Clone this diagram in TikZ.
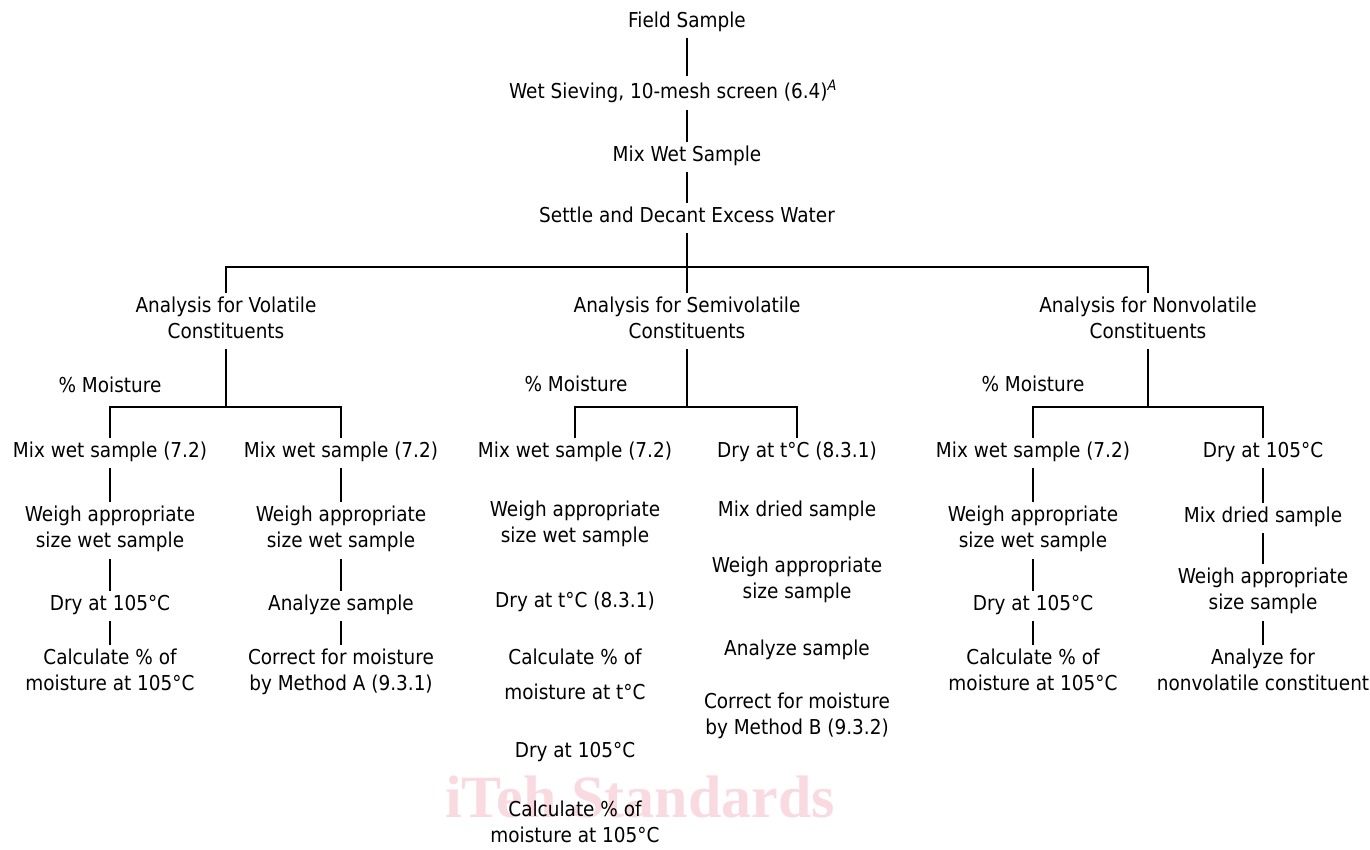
\documentclass[tikz,border=0pt]{standalone}
\usepackage{fontspec}
\setmainfont{DejaVu Sans}[FakeStretch=0.9]
\newfontfamily\wmfont{Liberation Serif}
\definecolor{wmpink}{RGB}{250,218,225}
\newcommand\mystrut{\rule[-7pt]{0pt}{22pt}}
\begin{document}
\begin{tikzpicture}[x=1pt,y=-1pt,
  lbl/.style={font=\fontsize{20.5}{26}\selectfont, align=center, inner sep=4pt,
    execute at begin node=\mystrut, execute at end node=\mystrut},
  conn/.style={line width=2.3pt},
  wm/.style={font=\wmfont\bfseries\fontsize{60}{60}\selectfont, text=wmpink, inner sep=0pt, anchor=base}]
\useasboundingbox (0,0) rectangle (1370,849);
% watermark
\node[wm] (wmark) at (640,817) {iTeh Standards};
% top chain
\node[lbl] (field) at (687,23) {Field Sample};
\node[lbl] (sieve) at (673,93) {Wet Sieving, 10-mesh screen (6.4)\textsuperscript{\itshape A}};
\node[lbl] (mixwet) at (687,157) {Mix Wet Sample};
\node[lbl] (settle) at (687,218) {Settle and Decant Excess Water};
% analysis
\node[lbl] (vol) at (226,321) {Analysis for Volatile\\Constituents};
\node[lbl] (semi) at (687,321) {Analysis for Semivolatile\\Constituents};
\node[lbl] (non) at (1148,321) {Analysis for Nonvolatile\\Constituents};
\node[lbl] (pm1) at (110,388) {\% Moisture};
\node[lbl] (pm2) at (576,387) {\% Moisture};
\node[lbl] (pm3) at (1033,387) {\% Moisture};
% column a
\node[lbl] (a1) at (110,453) {Mix wet sample (7.2)};
\node[lbl] (a2) at (110,530.5) {Weigh appropriate\\size wet sample};
\node[lbl] (a3) at (110,606) {Dry at 105°C};
\node[lbl] (a4) at (110,673.5) {Calculate \% of\\moisture at 105°C};
% column b
\node[lbl] (b1) at (341,453) {Mix wet sample (7.2)};
\node[lbl] (b2) at (341,530.5) {Weigh appropriate\\size wet sample};
\node[lbl] (b3) at (341,606) {Analyze sample};
\node[lbl] (b4) at (341,673.5) {Correct for moisture\\by Method A (9.3.1)};
% column c
\node[lbl] (c1) at (575,453) {Mix wet sample (7.2)};
\node[lbl] (c2) at (575,525) {Weigh appropriate\\size wet sample};
\node[lbl] (c3) at (575,603) {Dry at t°C (8.3.1)};
\node[lbl] (c4) at (575,677.5) {Calculate \% of\\[9pt]moisture at t°C};
\node[lbl] (c5) at (575,753) {Dry at 105°C};
\node[lbl] (c6) at (575,825) {Calculate \% of\\moisture at 105°C};
% column d
\node[lbl] (d1) at (797,453) {Dry at t°C (8.3.1)};
\node[lbl] (d2) at (797,512) {Mix dried sample};
\node[lbl] (d3) at (797,581) {Weigh appropriate\\size sample};
\node[lbl] (d4) at (797,651) {Analyze sample};
\node[lbl] (d5) at (797,717.5) {Correct for moisture\\by Method B (9.3.2)};
% column e
\node[lbl] (e1) at (1033,453) {Mix wet sample (7.2)};
\node[lbl] (e2) at (1033,530.5) {Weigh appropriate\\size wet sample};
\node[lbl] (e3) at (1033,606) {Dry at 105°C};
\node[lbl] (e4) at (1033,673.5) {Calculate \% of\\moisture at 105°C};
% column f
\node[lbl] (f1) at (1263,453) {Dry at 105°C};
\node[lbl] (f2) at (1263,518) {Mix dried sample};
\node[lbl] (f3) at (1263,592.5) {Weigh appropriate\\size sample};
\node[lbl] (f4) at (1263,673.5) {Analyze for\\nonvolatile constituent};
% junctions
\coordinate (j0) at (687,267);
\coordinate (jv) at (226,407);
\coordinate (js) at (687,407);
\coordinate (jn) at (1148,407);
% connectors
\draw[conn] (field.south) -- (field.south |- sieve.north);
\draw[conn] (mixwet.north |- sieve.south) -- (mixwet.north);
\draw[conn] (mixwet) -- (settle);
\draw[conn] (settle) -- (semi);
\draw[conn] (vol.north) |- (j0) -| (non.north);
\draw[conn] (vol) -- (jv);
\draw[conn] (a1.north) |- (jv) -| (b1.north);
\draw[conn] (semi) -- (js);
\draw[conn] (c1.north) |- (js) -| (d1.north);
\draw[conn] (non) -- (jn);
\draw[conn] (e1.north) |- (jn) -| (f1.north);
\draw[conn] (a1) -- (a2); \draw[conn] (a2) -- (a3); \draw[conn] (a3) -- (a4);
\draw[conn] (b1) -- (b2); \draw[conn] (b2) -- (b3); \draw[conn] (b3) -- (b4);
\draw[conn] (e1) -- (e2); \draw[conn] (e2) -- (e3); \draw[conn] (e3) -- (e4);
\draw[conn] (f1) -- (f2); \draw[conn] (f2) -- (f3); \draw[conn] (f3) -- (f4);
\end{tikzpicture}
\end{document}
